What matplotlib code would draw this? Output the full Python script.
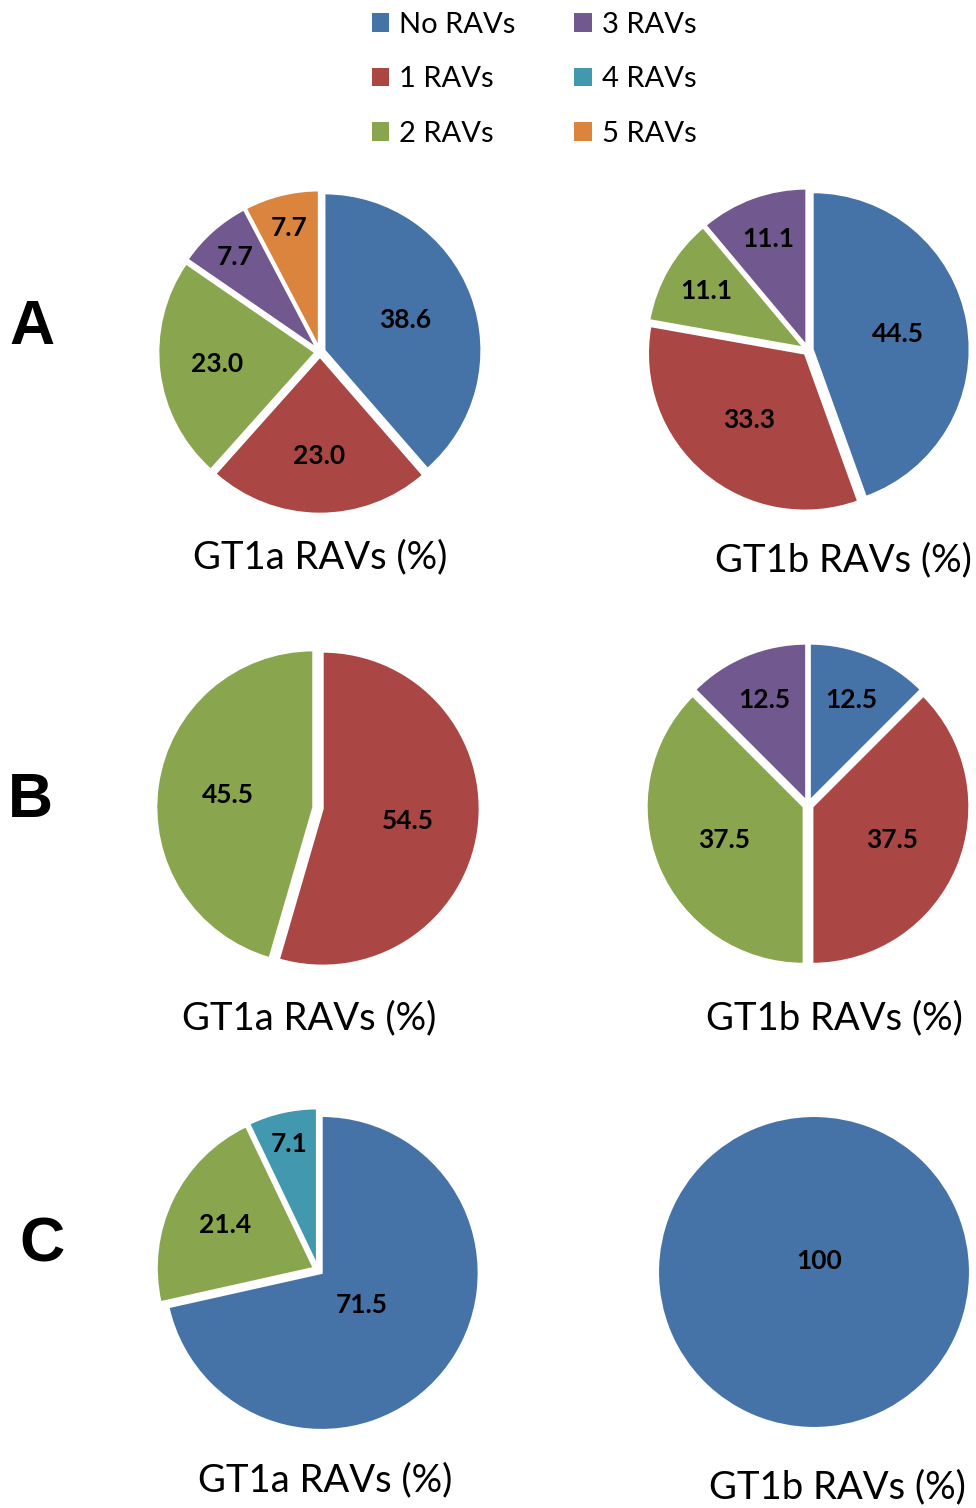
import matplotlib
matplotlib.use("Agg")
import numpy as np
import matplotlib.pyplot as plt
from matplotlib.patches import Patch

W, H = 976, 1508

categories = ["No RAVs", "1 RAVs", "2 RAVs", "3 RAVs", "4 RAVs", "5 RAVs"]
colors = ["#4572A7", "#AA4643", "#89A54E", "#71588F", "#4198AF", "#DB843D"]

A_gt1a = [38.6, 23.0, 23.0, 7.7, 0, 7.7]
A_gt1b = [44.5, 33.3, 11.1, 11.1, 0, 0]
B_gt1a = [0, 54.5, 45.5, 0, 0, 0]
B_gt1b = [12.5, 37.5, 37.5, 12.5, 0, 0]
C_gt1a = [71.5, 0, 21.4, 0, 7.1, 0]
C_gt1b = [100, 0, 0, 0, 0, 0]

A_gt1a_lbl = ["38.6", "23.0", "23.0", "7.7", "", "7.7"]
A_gt1b_lbl = ["44.5", "33.3", "11.1", "11.1", "", ""]
B_gt1a_lbl = ["", "54.5", "45.5", "", "", ""]
B_gt1b_lbl = ["12.5", "37.5", "37.5", "12.5", "", ""]
C_gt1a_lbl = ["71.5", "", "21.4", "", "7.1", ""]
C_gt1b_lbl = ["100", "", "", "", "", ""]

title_a = "GT1a RAVs (%)"
title_b = "GT1b RAVs (%)"
panel_letters = ["A", "B", "C"]

FONT = "Lato"

fig = plt.figure(figsize=(W / 100, H / 100), dpi=100)


def label_dist(frac):
    if frac < 0.15:
        return 0.95 - 1.8 * frac
    if frac > 0.6:
        return 0.36
    if frac < 0.3:
        return 0.66
    return 0.58


def draw_pie(vals, lbls, cx, cy, r, explode=0.03):
    lim = 1.2
    w = 2 * lim * r
    ax = fig.add_axes([(cx - w / 2) / W, 1 - (cy + w / 2) / H, w / W, w / H])
    v = [x for x in vals if x > 0]
    c = [colors[i] for i, x in enumerate(vals) if x > 0]
    t = [lbls[i] for i, x in enumerate(vals) if x > 0]
    it = iter(t)
    ex = [explode if len(v) > 1 else 0 for _ in v]
    wedges, texts, autotexts = ax.pie(
        v, colors=c, startangle=90, counterclock=False, explode=ex,
        autopct=lambda p: next(it), pctdistance=0.6,
        wedgeprops=dict(edgecolor="white", linewidth=1.5),
        textprops=dict(fontsize=19, fontweight="bold", family=FONT, color="black"))
    total = sum(v)
    for wdg, at, val in zip(wedges, autotexts, v):
        frac = val / total
        if frac >= 0.999:
            at.set_position((0.03, 0.07))
            continue
        ang = np.deg2rad((wdg.theta1 + wdg.theta2) / 2)
        d = label_dist(frac)
        at.set_position((d * np.cos(ang), d * np.sin(ang)))
    ax.set_xlim(-lim, lim)
    ax.set_ylim(-lim, lim)
    ax.set_aspect("equal")
    ax.axis("off")
    return ax


draw_pie(A_gt1a, A_gt1a_lbl, 320, 352, 157)
draw_pie(A_gt1b, A_gt1b_lbl, 808, 350, 157)
draw_pie(B_gt1a, B_gt1a_lbl, 318, 808, 157)
draw_pie(B_gt1b, B_gt1b_lbl, 808, 805, 157)
draw_pie(C_gt1a, C_gt1a_lbl, 318, 1270, 157)
draw_pie(C_gt1b, C_gt1b_lbl, 814, 1272, 156)

titles = [(320, 557, title_a), (843, 560, title_b),
          (309, 1018, title_a), (834, 1018, title_b),
          (325, 1480, title_a), (837, 1487, title_b)]
for x, y, s in titles:
    fig.text(x / W, 1 - y / H, s, ha="center", va="center", fontsize=27.5, family=FONT)

letters_pos = [(32, 328), (30, 800), (42, 1245)]
for (x, y), s in zip(letters_pos, panel_letters):
    fig.text(x / W, 1 - y / H, s, ha="center", va="center", fontsize=45,
             fontweight="bold", family="Liberation Sans")

handles = [Patch(facecolor=col, edgecolor="none", label=lab) for col, lab in zip(colors, categories)]
fig.legend(handles=handles, ncol=2, frameon=False, loc="upper left",
           bbox_to_anchor=(360 / W, 1 - 0 / H), prop=dict(family=FONT, size=21),
           handlelength=0.6, handleheight=0.6, handletextpad=0.35,
           labelspacing=0.98, columnspacing=2.0, borderaxespad=0.0)

fig.savefig("out.png", dpi=100, facecolor="white")
